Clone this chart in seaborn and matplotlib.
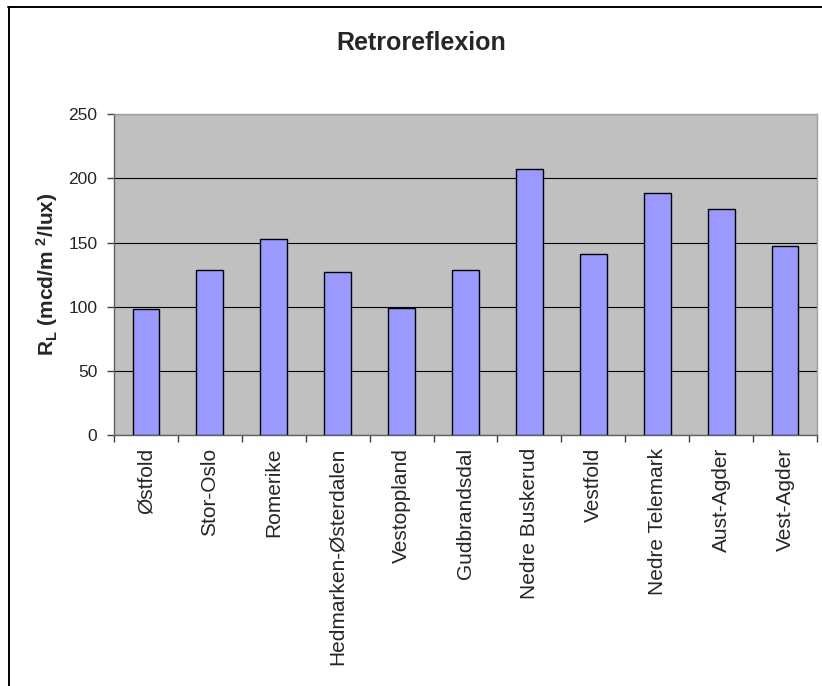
import matplotlib
matplotlib.use("Agg")
import matplotlib.pyplot as plt
from matplotlib.lines import Line2D
from matplotlib.ticker import FixedLocator, MultipleLocator
import seaborn as sns
import pandas as pd

regions = ["Østfold", "Stor-Oslo", "Romerike", "Hedmarken-Østerdalen", "Vestoppland",
           "Gudbrandsdal", "Nedre Buskerud", "Vestfold", "Nedre Telemark", "Aust-Agder",
           "Vest-Agder"]
rl_values = [98, 128.5, 153, 127, 99, 128.5, 207.5, 141, 188.5, 176, 147.5]
y_ticks = [0, 50, 100, 150, 200, 250]

sns.set_style("white")
plt.rcParams["font.family"] = ["Liberation Sans", "DejaVu Sans"]
plt.rcParams["mathtext.default"] = "regular"

df = pd.DataFrame({"region": regions, "rl": rl_values})

fig = plt.figure(figsize=(8.22, 6.86), dpi=100)
ax = fig.add_axes([0.1387, 0.3655, 0.8552, 0.4679])
ax.set_facecolor("#C0C0C0")

sns.barplot(data=df, x="region", y="rl", color="#9999FF", saturation=1,
            edgecolor="black", linewidth=1.0, width=0.42, ax=ax, zorder=3)

ax.set_ylim(0, 250)
ax.set_xlim(-0.5, len(regions) - 0.5)
ax.yaxis.set_major_locator(FixedLocator(y_ticks))
ax.grid(axis="y", color="black", linewidth=0.8, zorder=1)
ax.set_axisbelow(True)

for side in ["top", "right"]:
    ax.spines[side].set_color("#A0A0A0")
    ax.spines[side].set_linewidth(1.0)
for side in ["left", "bottom"]:
    ax.spines[side].set_color("#606060")
    ax.spines[side].set_linewidth(1.0)

# category boundary ticks on x, labels centred between them
ax.xaxis.set_minor_locator(MultipleLocator(1, offset=0.5))
ax.tick_params(axis="x", which="major", length=0, pad=9, labelsize=15,
               labelrotation=90)
ax.tick_params(axis="x", which="minor", length=5, width=1, color="#404040",
               direction="out", bottom=True)
ax.tick_params(axis="y", which="major", length=5, width=1, color="#404040",
               direction="out", left=True, pad=7, labelsize=12.5)
for lbl in ax.get_xticklabels():
    lbl.set_verticalalignment("top")

ax.set_xlabel("")
ax.set_ylabel(r"R$_L$ (mcd/m $^2$/lux)", fontsize=15, fontweight="bold", labelpad=6)

fig.text(0.5125, 0.937, "Retroreflexion", fontsize=18, fontweight="bold",
         ha="center", va="center")

# chart frame
fig.add_artist(Line2D([0.0095, 1.0], [0.9905, 0.9905], color="black", linewidth=1.4,
                      transform=fig.transFigure))
fig.add_artist(Line2D([0.0105, 0.0105], [0.0, 0.9905], color="black", linewidth=1.4,
                      transform=fig.transFigure))

fig.savefig("out.png", dpi=100)
